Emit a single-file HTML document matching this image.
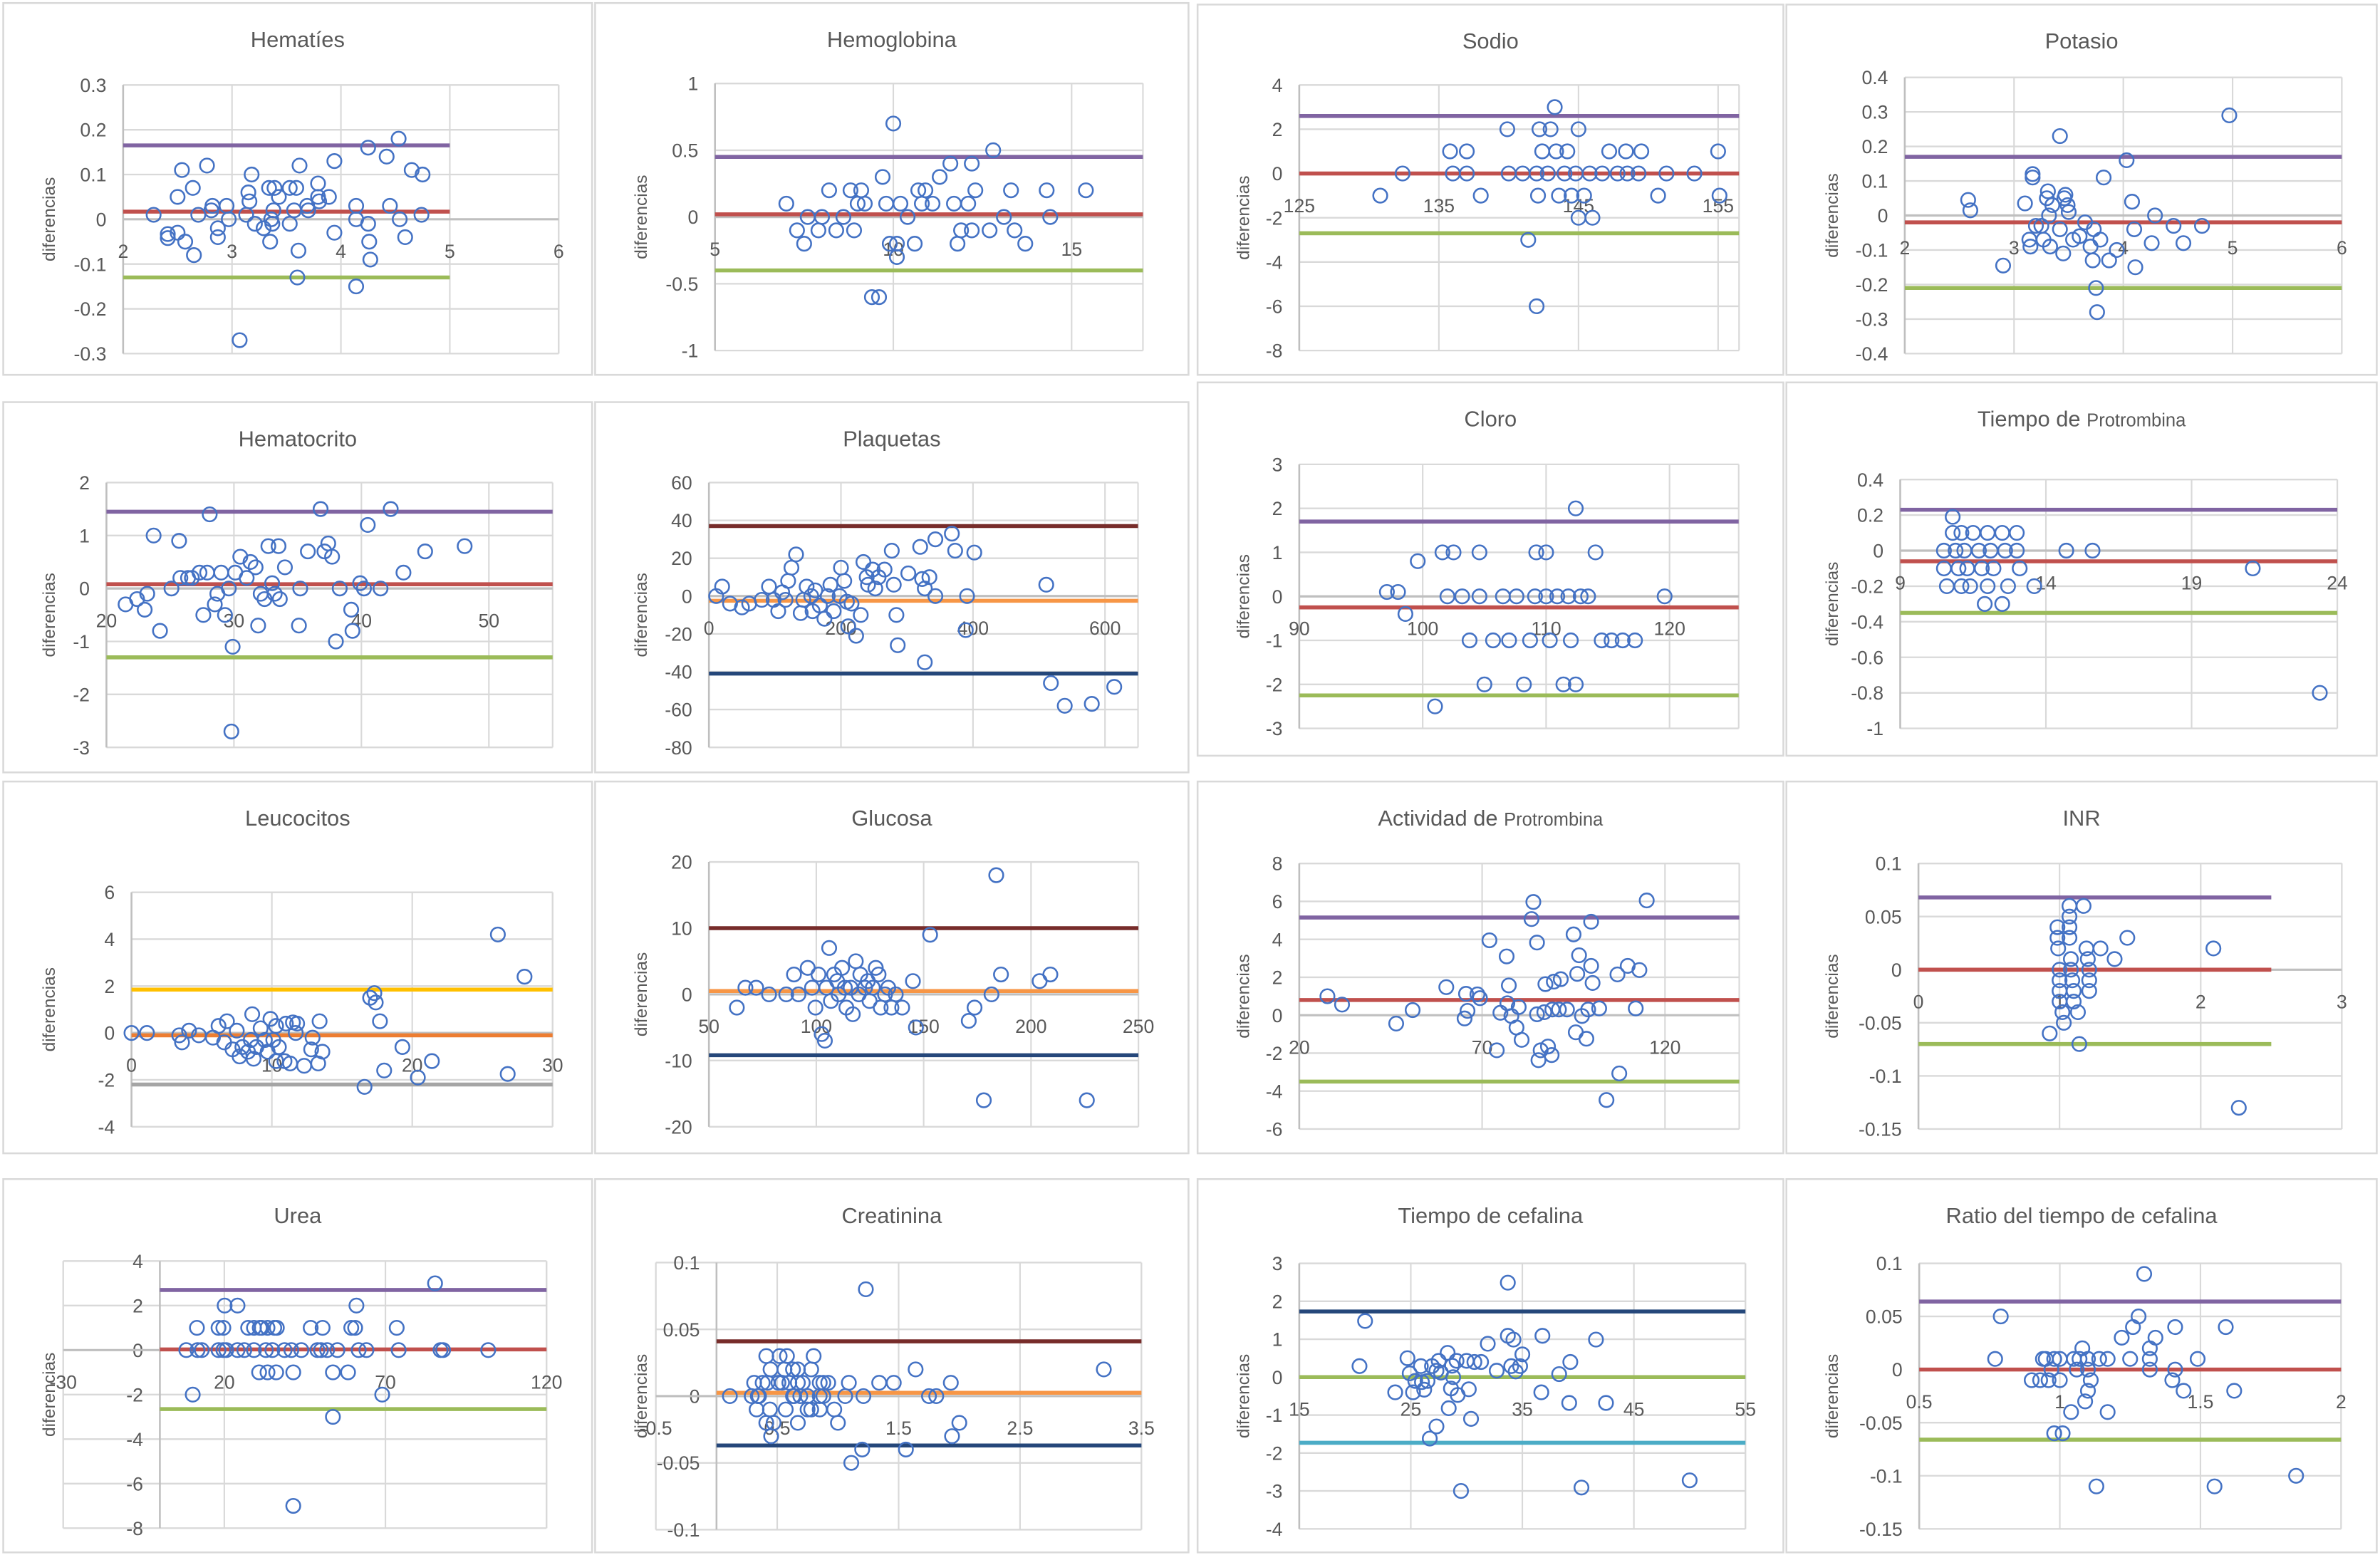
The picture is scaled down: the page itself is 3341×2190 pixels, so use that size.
<!DOCTYPE html>
<html>
<head>
<meta charset="utf-8">
<style>
html,body{margin:0;padding:0;background:#fff;}
svg{display:block;}
text{font-family:"Liberation Sans",sans-serif;fill:#595959;}
</style>
</head>
<body>
<svg id="chart" width="3341" height="2190" viewBox="0 0 1568 1028" xmlns="http://www.w3.org/2000/svg"></svg>
<script>
// ---------- data ----------
const hematiesPts = [[2.28,0.01],[2.41,-0.033],[2.41,-0.042],[2.5,-0.03],[2.5,0.05],[2.54,0.11],[2.57,-0.05],[2.64,0.07],[2.65,-0.08],[2.69,0.01],[2.77,0.12],[2.81,0.02],[2.82,0.03],[2.87,-0.02],[2.87,-0.04],[2.95,0.03],[2.97,0],[3.07,-0.27],[3.13,0.01],[3.15,0.06],[3.16,0.04],[3.18,0.1],[3.21,-0.01],[3.29,-0.02],[3.34,0.07],[3.35,-0.05],[3.36,0],[3.37,-0.01],[3.39,0.07],[3.38,0.02],[3.43,0.05],[3.53,0.07],[3.53,-0.01],[3.57,0.02],[3.59,0.07],[3.62,0.12],[3.61,-0.07],[3.6,-0.13],[3.69,0.03],[3.7,0.02],[3.79,0.08],[3.79,0.05],[3.8,0.04],[3.89,0.05],[3.94,0.13],[3.94,-0.03],[4.14,0.03],[4.14,0],[4.14,-0.15],[4.25,0.16],[4.25,-0.01],[4.26,-0.05],[4.27,-0.09],[4.42,0.14],[4.45,0.03],[4.53,0.18],[4.54,0],[4.59,-0.04],[4.65,0.11],[4.74,0.01],[4.75,0.1]];
const hematiesLimits = [0.165, 0.017, -0.13];

const hemoglobinaPts = [[7,0.1],[7.3,-0.1],[7.5,-0.2],[7.6,0],[7.9,-0.1],[8,0],[8.2,0.2],[8.4,-0.1],[8.6,0],[8.8,0.2],[8.9,-0.1],[9,0.1],[9.1,0.2],[9.2,0.1],[9.4,-0.6],[9.6,-0.6],[9.7,0.3],[9.8,0.1],[9.9,-0.2],[10,0.7],[10.1,-0.3],[10.1,-0.2],[10.2,0.1],[10.4,0],[10.6,-0.2],[10.7,0.2],[10.8,0.1],[10.9,0.2],[11.1,0.1],[11.3,0.3],[11.6,0.4],[11.7,0.1],[11.8,-0.2],[11.9,-0.1],[12.1,0.1],[12.2,0.4],[12.2,-0.1],[12.3,0.2],[12.7,-0.1],[12.8,0.5],[13.1,0],[13.3,0.2],[13.4,-0.1],[13.7,-0.2],[14.3,0.2],[14.4,0],[15.4,0.2]];
const hemoglobinaLimits = [0.45, 0.02, -0.4];

const sodioPts = [[130.8,-1],[132.4,0],[135.8,1],[137,1],[136,0],[137,0],[138,-1],[139.9,2],[140,0],[141,0],[141.4,-3],[142,-6],[142,0],[142.1,-1],[142.2,2],[142.4,1],[142.8,0],[143,2],[143.3,3],[143.4,1],[143.6,-1],[144,0],[144.2,1],[144.5,-1],[144.8,0],[145,2],[145,-2],[145.4,-1],[145.8,0],[146,-2],[146.7,0],[147.2,1],[147.8,0],[148.5,0],[148.4,1],[149.5,1],[149.3,0],[150.7,-1],[151.3,0],[153.3,0],[155,1],[155.1,-1]];
const sodioLimits = [2.6, 0, -2.7];

const potasioPts = [[2.58,0.045],[2.6,0.015],[2.9,-0.145],[3.1,0.035],[3.17,0.11],[3.17,0.12],[3.14,-0.07],[3.15,-0.09],[3.25,-0.03],[3.3,0.05],[3.32,0],[3.33,-0.09],[3.35,0.03],[3.42,-0.04],[3.42,0.23],[3.45,-0.11],[3.47,0.06],[3.49,0.03],[3.5,0.01],[3.54,-0.07],[3.6,-0.06],[3.65,-0.02],[3.7,-0.09],[3.72,-0.13],[3.73,-0.04],[3.75,-0.21],[3.76,-0.28],[3.79,-0.07],[3.82,0.11],[3.87,-0.13],[3.94,-0.1],[4.03,0.16],[4.08,0.04],[4.1,-0.04],[4.11,-0.15],[4.26,-0.08],[4.29,0],[4.46,-0.03],[4.55,-0.08],[4.72,-0.03],[4.97,0.29],[3.2,-0.03],[3.27,-0.07],[3.31,0.07],[3.46,0.05]];
const potasioLimits = [0.17, -0.02, -0.21];

const hematocritoPts = [[21.5,-0.3],[22.4,-0.2],[23,-0.4],[23.2,-0.1],[23.7,1],[24.2,-0.8],[25.1,0],[25.7,0.9],[25.8,0.2],[26.4,0.2],[26.7,0.2],[27.3,0.3],[27.6,-0.5],[27.9,0.3],[28.1,1.4],[28.5,-0.3],[28.7,-0.1],[29,0.3],[29.3,-0.5],[29.6,0],[29.9,-1.1],[29.8,-2.7],[30.1,0.3],[30.5,0.6],[31,0.2],[31.3,0.5],[31.7,0.4],[31.9,-0.7],[32.1,-0.1],[32.4,-0.2],[32.7,0.8],[33,0.1],[33.2,-0.1],[33.5,0.8],[33.6,-0.2],[34,0.4],[35.1,-0.7],[35.2,0],[35.8,0.7],[36.8,1.5],[37.1,0.7],[37.4,0.85],[37.7,0.6],[38,-1],[38.3,0],[39.2,-0.4],[39.3,-0.8],[39.9,0.1],[40.2,0],[40.5,1.2],[41.5,0],[42.3,1.5],[43.3,0.3],[45,0.7],[48.1,0.8]];
const hematocritoLimits = [1.45, 0.08, -1.3];

const plaquetasPts = [[11,0],[20,5],[32,-4],[50,-6],[61,-4],[80,-2],[91,5],[98,-2],[105,-8],[111,2],[116,-2],[120,8],[125,15],[132,22],[139,-9],[143,-2],[148,5],[155,0],[157,-8],[161,3],[168,-5],[175,-12],[180,0],[184,6],[189,-8],[198,0],[200,15],[205,8],[209,-3],[211,-16],[216,-4],[223,-21],[230,-10],[234,18],[239,10],[241,6],[248,14],[252,4],[257,10],[266,14],[277,24],[280,6],[284,-10],[286,-26],[302,12],[320,26],[323,9],[327,4],[327,-35],[334,10],[343,0],[343,30],[368,33],[373,24],[389,-18],[391,0],[402,23],[511,6],[518,-46],[539,-58],[580,-57],[614,-48]];
const plaquetasLimits = [37, -2.5, -41];

const cloroPts = [[97.1,0.1],[98,0.1],[98.6,-0.4],[99.6,0.8],[101,-2.5],[101.6,1],[102.5,1],[102,0],[103.2,0],[103.8,-1],[104.6,1],[104.6,0],[105,-2],[105.7,-1],[106.5,0],[107,-1],[107.6,0],[108.2,-2],[108.7,-1],[109.2,1],[109.1,0],[110,1],[110,0],[110.3,-1],[110.9,0],[111.4,-2],[111.8,0],[112,-1],[112.4,2],[112.4,-2],[112.8,0],[113.4,0],[114,1],[114.5,-1],[115.3,-1],[116.2,-1],[117.2,-1],[119.6,0]];
const cloroLimits = [1.7, -0.25, -2.25];

const tpPts = [[10.5,0],[10.5,-0.1],[10.6,-0.2],[10.8,0.1],[10.8,0.19],[10.9,0],[11,-0.1],[11.1,-0.2],[11.1,0.1],[11.2,0],[11.3,-0.1],[11.4,-0.2],[11.5,0.1],[11.7,0],[11.8,-0.1],[11.9,-0.3],[12,0.1],[12,-0.2],[12.1,0],[12.2,-0.1],[12.5,-0.3],[12.5,0.1],[12.6,0],[12.7,-0.2],[13,0.1],[13,0],[13.1,-0.1],[13.6,-0.2],[14.7,0],[15.6,0],[21.1,-0.1],[23.4,-0.8]];
const tpLimits = [0.23, -0.06, -0.35];

const leucocitosPts = [[0,0],[1.1,0],[3.4,-0.1],[3.6,-0.4],[4.1,0.1],[4.8,-0.1],[5.8,-0.2],[6.2,0.3],[6.6,-0.4],[6.8,0.5],[7.2,-0.7],[7.5,0.1],[7.7,-1],[7.9,-0.6],[8.3,-0.8],[8.5,-0.3],[8.6,0.8],[8.7,-1.1],[8.9,-0.6],[9.2,0.2],[9.5,-0.3],[9.7,-0.8],[9.9,0.6],[10.1,-0.3],[10.3,-1.2],[10.3,0.3],[10.5,-0.6],[10.9,-1.2],[11,0.4],[11.3,-1.3],[11.5,0.45],[11.7,0],[11.8,0.4],[12.3,-1.4],[12.8,-0.7],[12.9,-0.2],[13.3,-1.3],[13.4,0.5],[13.6,-0.8],[16.6,-2.3],[17,1.5],[17.3,1.7],[17.4,1.3],[17.7,0.5],[18,-1.6],[19.3,-0.6],[20.4,-1.9],[21.4,-1.2],[26.1,4.2],[26.8,-1.75],[28,2.4]];
const leucocitosLimits = [1.85, -0.1, -2.2];

const glucosaPts = [[63,-2],[67,1],[72,1],[78,0],[86,0],[89.6,3],[91.7,0],[96,4],[98,1],[99.6,-2],[101,3],[102.5,-6],[104,-7],[104.7,1],[106,7],[106.8,-1],[108.3,3],[109.7,2],[110.4,0],[112,4],[113.3,1],[114,-2],[116,1],[117,-3],[118.4,5],[119.8,0],[120.5,3],[122.7,1],[124,2],[124.8,-1],[126.3,1],[127.7,4],[129,3],[130,-2],[132,0],[133.5,1],[135,-2],[137,0],[140,-2],[145,2],[146.4,-5],[153,9],[171,-4],[173.7,-2],[178,-16],[181.6,0],[183.8,18],[186,3],[204,2],[209,3],[226,-16]];
const glucosaLimits = [10, 0.5, -9.2];

const actividadPts = [[27.7,1.0],[31.7,0.56],[46.5,-0.44],[51,0.27],[60.2,1.48],[65.2,-0.17],[65.6,1.13],[66,0.23],[68.7,1.1],[69.4,0.9],[72,3.95],[74,-1.85],[75,0.13],[76.7,3.1],[76.9,0.63],[77.3,1.57],[78,-0.04],[79.4,-0.65],[80,0.43],[80.8,-1.3],[83.5,5.07],[84,5.97],[85,3.83],[85,0.05],[85.4,-2.37],[86,-1.85],[87,0.16],[87.3,1.64],[88,-1.65],[89,-2.1],[89.2,0.3],[89.6,1.77],[91,0.3],[91.5,1.9],[93.2,0.3],[95,4.26],[95.6,-0.9],[96,2.18],[96.5,3.16],[97.3,-0.04],[98.5,-1.24],[99,0.3],[99.8,4.93],[99.8,2.6],[100.2,1.7],[102,0.36],[104,-4.47],[107,2.15],[107.5,-3.07],[109.8,2.6],[112,0.36],[113,2.38],[115,6.05]];
const actividadLimits = [5.15, 0.8, -3.5];

const inrPts = [[0.93,-0.06],[0.985,0.04],[0.985,0.03],[0.99,0.02],[1.0,0],[1.0,-0.01],[1.0,-0.02],[1.0,-0.03],[1.02,-0.04],[1.03,-0.05],[1.07,0.06],[1.07,0.05],[1.07,0.04],[1.07,0.03],[1.08,0.01],[1.08,0],[1.09,-0.01],[1.1,-0.02],[1.1,-0.03],[1.13,-0.04],[1.14,-0.07],[1.17,0.06],[1.19,0.02],[1.2,0.01],[1.21,0],[1.21,-0.01],[1.21,-0.02],[1.29,0.02],[1.39,0.01],[1.48,0.03],[2.09,0.02],[2.27,-0.13]];
const inrLimits = [0.068, 0, -0.07];

const ureaPts = [[8.2,0],[11.7,0],[13,0],[18.2,0],[19.7,0],[20.6,0],[24.1,0],[26.2,0],[29.2,0],[32.9,0],[34.9,0],[38.7,0],[40.8,0],[43.9,0],[48.9,0],[50,0],[51.9,0],[55.1,0],[61.7,0],[64.1,0],[74.1,0],[87.1,0],[87.9,0],[101.9,0],[11.5,1],[18.2,1],[19.7,1],[27.4,1],[29.2,1],[31,1],[31.6,1],[33.4,1],[35.5,1],[36.3,1],[46.8,1],[50.5,1],[59.4,1],[60.6,1],[73.5,1],[20.1,2],[24.1,2],[61,2],[30.8,-1],[33.4,-1],[36.1,-1],[41.4,-1],[53.7,-1],[58.4,-1],[10.2,-2],[69,-2],[85.4,3],[53.7,-3],[41.4,-7]];
const ureaLimits = [2.7, 0.03, -2.65];

const creatininaPts = [[0.11,0],[0.29,0],[0.31,0.01],[0.33,-0.01],[0.34,0],[0.35,0],[0.38,0.01],[0.41,0.03],[0.41,-0.02],[0.42,0.01],[0.44,-0.01],[0.445,0.02],[0.45,-0.03],[0.47,-0.02],[0.51,0.01],[0.52,0.03],[0.54,0.01],[0.57,-0.01],[0.56,0.02],[0.58,0.03],[0.6,0.01],[0.63,0.02],[0.63,0],[0.64,0],[0.67,0.02],[0.67,-0.02],[0.67,0.01],[0.69,0],[0.71,0.01],[0.75,0],[0.75,-0.01],[0.78,0.02],[0.78,-0.01],[0.8,0.03],[0.85,0],[0.85,-0.01],[0.85,0.01],[0.88,0.01],[0.88,0],[0.92,0.01],[0.97,-0.01],[1.0,-0.02],[1.06,0],[1.09,0.01],[1.11,-0.05],[1.2,-0.04],[1.21,0],[1.23,0.08],[1.34,0.01],[1.46,0.01],[1.56,-0.04],[1.64,0.02],[1.75,0],[1.81,0],[1.93,0.01],[1.94,-0.03],[2.0,-0.02],[3.19,0.02]];
const creatininaLimits = [0.041, 0.0025, -0.037];

const cefalinaPts = [[20.9,1.48],[20.4,0.29],[23.6,-0.4],[24.7,0.5],[24.9,0.1],[25.2,-0.4],[25.4,-0.1],[25.9,0.29],[26,-0.13],[26.2,-0.33],[26.5,-0.1],[26.7,-1.62],[26.9,0.29],[27.3,-1.3],[27.3,0.17],[27.5,0.43],[27.7,0.12],[28.3,0.64],[28.4,-0.82],[28.6,-0.3],[28.7,0.3],[28.8,0],[29.1,0.43],[29.2,-0.47],[29.5,-3.0],[30,0.43],[30.2,-0.32],[30.4,-1.1],[30.7,0.4],[31.3,0.4],[31.9,0.88],[32.7,0.17],[33.7,1.09],[33.7,2.49],[34,0.29],[34.2,0.99],[34.4,0.15],[34.8,0.29],[35,0.6],[36.7,-0.4],[36.8,1.09],[38.3,0.08],[39.2,-0.68],[39.3,0.4],[40.3,-2.91],[41.6,0.99],[42.5,-0.68],[50,-2.72]];
const cefalinaLimits = [1.73, 0, -1.73];

const ratioPts = [[0.77,0.01],[0.79,0.05],[0.9,-0.01],[0.93,-0.01],[0.94,0.01],[0.95,0.01],[0.97,0],[0.96,-0.01],[0.98,-0.06],[0.98,0.01],[1.0,-0.01],[1.0,0.01],[1.01,-0.06],[1.04,-0.04],[1.05,0.01],[1.06,0],[1.07,0.01],[1.08,0.02],[1.09,-0.03],[1.1,-0.02],[1.1,0.01],[1.1,0],[1.11,-0.01],[1.13,-0.11],[1.14,0.01],[1.17,0.01],[1.17,-0.04],[1.22,0.03],[1.25,0.01],[1.26,0.04],[1.28,0.05],[1.3,0.09],[1.32,0.01],[1.32,0.02],[1.32,0],[1.34,0.03],[1.4,-0.01],[1.41,0],[1.41,0.04],[1.44,-0.02],[1.49,0.01],[1.55,-0.11],[1.59,0.04],[1.62,-0.02],[1.84,-0.1]];
const ratioLimits = [0.064, 0, -0.066];

// tick label arrays
const hematiesYTicks = [0.3,0.2,0.1,0,-0.1,-0.2,-0.3];
const hematiesXTicks = [2,3,4,5,6];
const hemoglobinaYTicks = [1,0.5,0,-0.5,-1];
const hemoglobinaXTicks = [5,10,15];
const sodioYTicks = [4,2,0,-2,-4,-6,-8];
const sodioXTicks = [125,135,145,155];
const potasioYTicks = [0.4,0.3,0.2,0.1,0,-0.1,-0.2,-0.3,-0.4];
const potasioXTicks = [2,3,4,5,6];
const hematocritoYTicks = [2,1,0,-1,-2,-3];
const hematocritoXTicks = [20,30,40,50];
const plaquetasYTicks = [60,40,20,0,-20,-40,-60,-80];
const plaquetasXTicks = [0,200,400,600];
const cloroYTicks = [3,2,1,0,-1,-2,-3];
const cloroXTicks = [90,100,110,120];
const tpYTicks = [0.4,0.2,0,-0.2,-0.4,-0.6,-0.8,-1];
const tpXTicks = [9,14,19,24];
const leucocitosYTicks = [6,4,2,0,-2,-4];
const leucocitosXTicks = [0,10,20,30];
const glucosaYTicks = [20,10,0,-10,-20];
const glucosaXTicks = [50,100,150,200,250];
const actividadYTicks = [8,6,4,2,0,-2,-4,-6];
const actividadXTicks = [20,70,120];
const inrYTicks = [0.1,0.05,0,-0.05,-0.1,-0.15];
const inrXTicks = [0,1,2,3];
const ureaYTicks = [4,2,0,-2,-4,-6,-8];
const ureaXTicks = [-30,20,70,120];
const creatininaYTicks = [0.1,0.05,0,-0.05,-0.1];
const creatininaXTicks = [-0.5,0.5,1.5,2.5,3.5];
const cefalinaYTicks = [3,2,1,0,-1,-2,-3,-4];
const cefalinaXTicks = [15,25,35,45,55];
const ratioYTicks = [0.1,0.05,0,-0.05,-0.1,-0.15];
const ratioXTicks = [0.5,1,1.5,2];

// ---------- layout / styles ----------
const C = {purple:'#8064a2', red:'#c0504d', green:'#9bbb59', maroon:'#772c2a', orange:'#f79646', navy:'#25477a', yellow:'#ffc000', gray:'#a5a5a5', lblue:'#4bacc6', orange2:'#ed7d31'};
const LIM_NAMES = ['upper-limit-line','mean-line','lower-limit-line'];

const panels = [
 {id:'hematies', title:'Hematíes', box:[2,2,390,247], xm:[2,81,6,368], ym:[0.3,56,-0.3,233], xr:[2,6], pts:hematiesPts, lim:hematiesLimits, col:[C.purple,C.red,C.green], lx:[2,5], yt:hematiesYTicks, xt:hematiesXTicks},
 {id:'hemoglobina', title:'Hemoglobina', box:[392,2,783,247], xm:[5,471,15,706], ym:[1,55,-1,231], xr:[5,17], pts:hemoglobinaPts, lim:hemoglobinaLimits, col:[C.purple,C.red,C.green], yt:hemoglobinaYTicks, xt:hemoglobinaXTicks},
 {id:'sodio', title:'Sodio', box:[789,3,1175,247], xm:[125,856,155,1132], ym:[4,56,-8,231], xr:[125,156.5], pts:sodioPts, lim:sodioLimits, col:[C.purple,C.red,C.green], yt:sodioYTicks, xt:sodioXTicks},
 {id:'potasio', title:'Potasio', box:[1177,3,1566,247], xm:[2,1255,6,1543], ym:[0.4,51,-0.4,233], xr:[2,6], pts:potasioPts, lim:potasioLimits, col:[C.purple,C.red,C.green], yt:potasioYTicks, xt:potasioXTicks},
 {id:'hematocrito', title:'Hematocrito', box:[2,265,390,509], xm:[20,70,50,322], ym:[2,318,-3,492.5], xr:[20,55], pts:hematocritoPts, lim:hematocritoLimits, col:[C.purple,C.red,C.green], yt:hematocritoYTicks, xt:hematocritoXTicks},
 {id:'plaquetas', title:'Plaquetas', box:[392,265,783,509], xm:[0,467,600,728], ym:[60,318,-80,492.5], xr:[0,650], pts:plaquetasPts, lim:plaquetasLimits, col:[C.maroon,C.orange,C.navy], yt:plaquetasYTicks, xt:plaquetasXTicks},
 {id:'cloro', title:'Cloro', box:[789,252,1175,498], xm:[90,856,120,1100], ym:[3,306,-3,480], xr:[90,125.6], pts:cloroPts, lim:cloroLimits, col:[C.purple,C.red,C.green], yt:cloroYTicks, xt:cloroXTicks},
 {id:'tiempo-protrombina', title:'Tiempo de ', title2:'Protrombina', box:[1177,252,1566,498], xm:[9,1252,24,1540], ym:[0.4,316,-1,480], xr:[9,24], pts:tpPts, lim:tpLimits, col:[C.purple,C.red,C.green], yt:tpYTicks, xt:tpXTicks},
 {id:'leucocitos', title:'Leucocitos', box:[2,515,390,760], xm:[0,86.5,30,364], ym:[6,588,-4,742.5], xr:[0,30], pts:leucocitosPts, lim:leucocitosLimits, col:[C.yellow,C.orange2,C.gray], yt:leucocitosYTicks, xt:leucocitosXTicks},
 {id:'glucosa', title:'Glucosa', box:[392,515,783,760], xm:[50,467,250,750], ym:[20,568,-20,742.5], xr:[50,250], pts:glucosaPts, lim:glucosaLimits, col:[C.maroon,C.orange,C.navy], yt:glucosaYTicks, xt:glucosaXTicks},
 {id:'actividad-protrombina', title:'Actividad de ', title2:'Protrombina', box:[789,515,1175,760], xm:[20,856,120,1097], ym:[8,569,-6,744], xr:[20,140.3], pts:actividadPts, lim:actividadLimits, col:[C.purple,C.red,C.green], yt:actividadYTicks, xt:actividadXTicks},
 {id:'inr', title:'INR', box:[1177,515,1566,760], xm:[0,1264,3,1543], ym:[0.1,569,-0.15,744], xr:[0,3], pts:inrPts, lim:inrLimits, col:[C.purple,C.red,C.green], lx:[0,2.5], yt:inrYTicks, xt:inrXTicks},
 {id:'urea', title:'Urea', box:[2,777,390,1023], xm:[-30,41.5,120,360], ym:[4,831,-8,1007], xr:[-30,120], pts:ureaPts, lim:ureaLimits, col:[C.purple,C.red,C.green], lx:[0,120], axisAt:0, yt:ureaYTicks, xt:ureaXTicks},
 {id:'creatinina', title:'Creatinina', box:[392,777,783,1023], xm:[-0.5,432,3.5,752], ym:[0.1,832,-0.1,1008], xr:[-0.5,3.5], pts:creatininaPts, lim:creatininaLimits, col:[C.maroon,C.orange,C.navy], lx:[0,3.5], axisAt:0, yt:creatininaYTicks, xt:creatininaXTicks},
 {id:'tiempo-cefalina', title:'Tiempo de cefalina', box:[789,777,1175,1023], xm:[15,856,55,1150], ym:[3,832.5,-4,1007.5], xr:[15,55], pts:cefalinaPts, lim:cefalinaLimits, col:[C.navy,C.green,C.lblue], yt:cefalinaYTicks, xt:cefalinaXTicks},
 {id:'ratio-tiempo-cefalina', title:'Ratio del tiempo de cefalina', box:[1177,777,1566,1023], xm:[0.5,1264.5,2,1542.5], ym:[0.1,832.5,-0.15,1007.5], xr:[0.5,2], pts:ratioPts, lim:ratioLimits, col:[C.purple,C.red,C.green], yt:ratioYTicks, xt:ratioXTicks}
];

// ---------- drawing ----------
const NS = 'http://www.w3.org/2000/svg';
const svg = document.getElementById('chart');
function mk(tag, parent, attrs){
  const e = document.createElementNS(NS, tag);
  for (const k in attrs) e.setAttribute(k, attrs[k]);
  parent.appendChild(e);
  return e;
}
function fmt(v){ return String(Math.round(v*1000)/1000); }

panels.forEach(p => {
  const sx = v => p.xm[1] + (v - p.xm[0]) * (p.xm[3]-p.xm[1])/(p.xm[2]-p.xm[0]);
  const sy = v => p.ym[1] + (v - p.ym[0]) * (p.ym[3]-p.ym[1])/(p.ym[2]-p.ym[0]);
  const L = sx(p.xr[0]), R = sx(p.xr[1]);
  const T = sy(p.yt[0]), B = sy(p.yt[p.yt.length-1]);
  const [bx1,by1,bx2,by2] = p.box;
  const ax = (p.axisAt !== undefined) ? sx(p.axisAt) : L;

  const g = mk('g', svg, {});
  
  

  const frame = mk('rect', g, {x:bx1, y:by1, width:bx2-bx1, height:by2-by1, fill:'#fff', stroke:'#d9d9d9', 'stroke-width':1.2});
  
  

  const t = mk('text', g, {x:(bx1+bx2)/2, y:by1+29, 'text-anchor':'middle', 'font-size':14.5});
  t.textContent = p.title;
  if (p.title2) {
    const ts = mk('tspan', t, {'font-size':12});
    ts.textContent = p.title2;
  }
  
  

  p.yt.forEach(v => {
    const y = sy(v);
    const gl = mk('line', g, {x1:L, x2:R, y1:y, y2:y, stroke:'#d9d9d9', 'stroke-width':1.1});
    
    
    const lab = mk('text', g, {x:ax-11, y:y+4.5, 'text-anchor':'end', 'font-size':12.5});
    lab.textContent = fmt(v);
    
    
  });

  const vx = p.xt.map(sx).concat([L, R]);
  vx.forEach(x => {
    const vl = mk('line', g, {x1:x, x2:x, y1:T, y2:B, stroke:'#d9d9d9', 'stroke-width':1});
    
    
  });

  const yAxis = mk('line', g, {x1:ax, x2:ax, y1:T, y2:B, stroke:'#bfbfbf', 'stroke-width':1.2});
  
  

  const y0 = sy(0);
  const xAxis = mk('line', g, {x1:L, x2:R, y1:y0, y2:y0, stroke:'#bfbfbf', 'stroke-width':1.5});
  
  

  p.xt.forEach(v => {
    const lab = mk('text', g, {x:sx(v), y:y0+25.5, 'text-anchor':'middle', 'font-size':12.5});
    lab.textContent = fmt(v);
    
    
  });

  const yc = (T+B)/2, xc = bx1+34;
  const yt = mk('text', g, {x:xc, y:yc, 'text-anchor':'middle', 'font-size':11.5, transform:`rotate(-90 ${xc} ${yc})`});
  yt.textContent = 'diferencias';
  
  

  const lx = p.lx || p.xr;
  p.lim.forEach((v, i) => {
    const ln = mk('line', g, {x1:sx(lx[0]), x2:sx(lx[1]), y1:sy(v), y2:sy(v), stroke:p.col[i], 'stroke-width':2.6});
    
    
  });

  p.pts.forEach(d => {
    const c = mk('circle', g, {cx:sx(d[0]), cy:sy(d[1]), r:4.6, fill:'none', stroke:'#4472c4', 'stroke-width':1.2});
    
    
  });
});
</script>
</body>
</html>
